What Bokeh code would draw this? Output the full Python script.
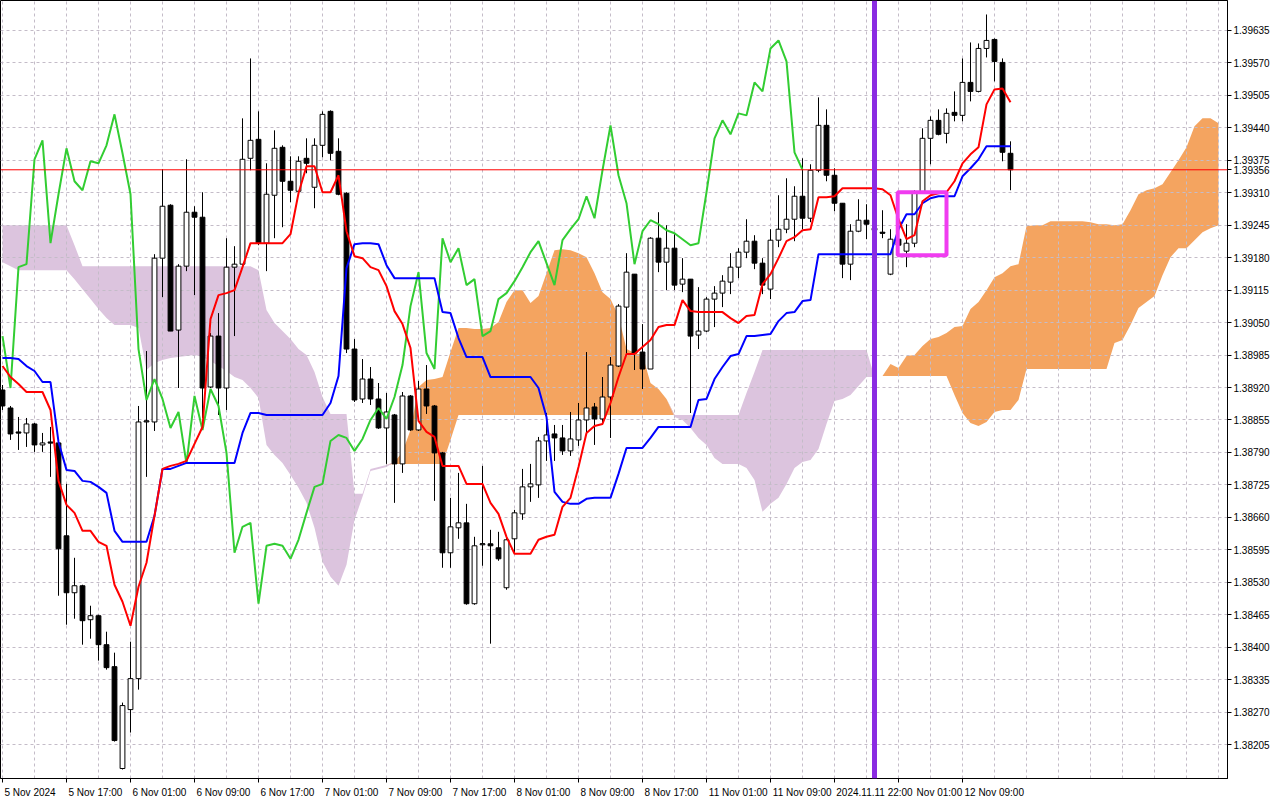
import numpy as np
from bokeh.plotting import figure
from bokeh.models import Range1d, FixedTicker, PrintfTickFormatter, Span
from bokeh.embed import file_html
from bokeh.resources import INLINE

# ---------------- data (H1 bars, 5 Nov 2024 09:00 ... 12 Nov 2024 15:00) ----------------
tick_bars = [0, 8, 16, 24, 32, 40, 48, 56, 64, 72, 80, 88, 96, 120]
tick_text = ["5 Nov 2024", "5 Nov 17:00", "6 Nov 01:00", "6 Nov 09:00", "6 Nov 17:00",
             "7 Nov 01:00", "7 Nov 09:00", "7 Nov 17:00", "8 Nov 01:00", "8 Nov 09:00",
             "8 Nov 17:00", "11 Nov 01:00", "11 Nov 09:00", "12 Nov 09:00"]
hidden_tick_bars = [104, 112]          # 11 Nov 17:00 and 12 Nov 01:00, mostly covered by the marker tag
partly_visible_text = "Nov 01:00"      # visible rest of the "12 Nov 01:00" label

price_ticks = [1.38205, 1.38270, 1.38335, 1.38400, 1.38465, 1.38530, 1.38595, 1.38660,
               1.38725, 1.38790, 1.38855, 1.38920, 1.38985, 1.39050, 1.39115, 1.39180,
               1.39245, 1.39310, 1.39375, 1.39440, 1.39505, 1.39570, 1.39635]

open_ = [1.38915, 1.38879, 1.38831, 1.38829, 1.38847, 1.38805, 1.38811, 1.38809, 1.38623, 1.38509,
         1.38523, 1.38455, 1.38463, 1.38405, 1.38361, 1.38157, 1.38275, 1.38337, 1.38851, 1.38851,
         1.39179, 1.39285, 1.39035, 1.39163, 1.39271, 1.39261, 1.38921, 1.39023, 1.38919, 1.39161,
         1.39167, 1.39379, 1.39417, 1.39209, 1.39305, 1.39401, 1.39333, 1.39313, 1.39379, 1.39321,
         1.39405, 1.39473, 1.39393, 1.39309, 1.38997, 1.38897, 1.38937, 1.38897, 1.38839, 1.38865,
         1.38767, 1.38903, 1.38835, 1.38917, 1.38883, 1.38789, 1.38589, 1.38639, 1.38649, 1.38487,
         1.38605, 1.38607, 1.38599, 1.38519, 1.38617, 1.38667, 1.38721, 1.38725, 1.38813, 1.38827,
         1.38819, 1.38793, 1.38815, 1.38855, 1.38881, 1.38857, 1.38901, 1.38963, 1.39081, 1.39147,
         1.38991, 1.38957, 1.39219, 1.39171, 1.39199, 1.39127, 1.39137, 1.39025, 1.39033, 1.39097,
         1.39109, 1.39131, 1.39161, 1.39191, 1.39213, 1.39169, 1.39117, 1.39215, 1.39237, 1.39257,
         1.39303, 1.39259, 1.39355, 1.39445, 1.39345, 1.39289, 1.39167, 1.39233, 1.39255, 1.39239,
         1.39231, 1.39147, 1.39217, 1.39193, 1.39209, 1.39311, 1.39419, 1.39455, 1.39429, 1.39471,
         1.39465, 1.39531, 1.39513, 1.39599, 1.39617, 1.39571, 1.39389]

high = [1.38925, 1.38883, 1.38861, 1.38859, 1.38849, 1.38829, 1.38841, 1.38811, 1.38727, 1.38579,
        1.38525, 1.38483, 1.38465, 1.38431, 1.38389, 1.38289, 1.38411, 1.38883, 1.38993, 1.39187,
        1.39357, 1.39287, 1.39167, 1.39377, 1.39283, 1.39311, 1.39029, 1.39069, 1.39219, 1.39203,
        1.39459, 1.39579, 1.39473, 1.39369, 1.39435, 1.39405, 1.39383, 1.39383, 1.39419, 1.39419,
        1.39473, 1.39475, 1.39419, 1.39311, 1.39017, 1.38977, 1.38961, 1.38929, 1.38909, 1.38867,
        1.38911, 1.38905, 1.38933, 1.38965, 1.38885, 1.38791, 1.38699, 1.38749, 1.38687, 1.38621,
        1.38763, 1.38635, 1.38631, 1.38619, 1.38675, 1.38757, 1.38767, 1.38821, 1.38869, 1.38845,
        1.38845, 1.38871, 1.38889, 1.38991, 1.38889, 1.38941, 1.38981, 1.39087, 1.39189, 1.39147,
        1.39047, 1.39221, 1.39271, 1.39245, 1.39227, 1.39179, 1.39137, 1.39121, 1.39101, 1.39123,
        1.39145, 1.39189, 1.39199, 1.39257, 1.39225, 1.39179, 1.39237, 1.39305, 1.39339, 1.39323,
        1.39379, 1.39367, 1.39501, 1.39477, 1.39359, 1.39289, 1.39247, 1.39297, 1.39287, 1.39265,
        1.39275, 1.39237, 1.39239, 1.39247, 1.39315, 1.39439, 1.39463, 1.39477, 1.39479, 1.39513,
        1.39579, 1.39611, 1.39609, 1.39667, 1.39619, 1.39579, 1.39413]

low = [1.38875, 1.38815, 1.38795, 1.38801, 1.38791, 1.38791, 1.38741, 1.38503, 1.38445, 1.38457,
       1.38405, 1.38417, 1.38373, 1.38355, 1.38211, 1.38155, 1.38229, 1.38315, 1.38741, 1.38833,
       1.39101, 1.39033, 1.38919, 1.39153, 1.39105, 1.38859, 1.38919, 1.38865, 1.38875, 1.39023,
       1.39165, 1.39355, 1.39205, 1.39153, 1.39219, 1.39241, 1.39291, 1.39309, 1.39349, 1.39279,
       1.39381, 1.39375, 1.39305, 1.38989, 1.38891, 1.38889, 1.38885, 1.38837, 1.38767, 1.38689,
       1.38749, 1.38833, 1.38833, 1.38867, 1.38693, 1.38559, 1.38559, 1.38617, 1.38485, 1.38485,
       1.38563, 1.38407, 1.38573, 1.38515, 1.38589, 1.38655, 1.38691, 1.38699, 1.38773, 1.38773,
       1.38785, 1.38783, 1.38803, 1.38829, 1.38805, 1.38847, 1.38819, 1.38961, 1.38987, 1.38955,
       1.38917, 1.38957, 1.39151, 1.39115, 1.39115, 1.39111, 1.38869, 1.38997, 1.39031, 1.39041,
       1.39081, 1.39107, 1.39139, 1.39179, 1.39157, 1.39107, 1.39097, 1.39201, 1.39229, 1.39213,
       1.39237, 1.39251, 1.39351, 1.39333, 1.39273, 1.39139, 1.39135, 1.39231, 1.39217, 1.39215,
       1.39219, 1.39145, 1.39195, 1.39161, 1.39201, 1.39309, 1.39367, 1.39425, 1.39409, 1.39453,
       1.39453, 1.39493, 1.39511, 1.39581, 1.39533, 1.39373, 1.39315]

close = [1.38883, 1.38827, 1.38829, 1.38847, 1.38805, 1.38809, 1.38809, 1.38597, 1.38509, 1.38523,
         1.38453, 1.38463, 1.38405, 1.38359, 1.38213, 1.38283, 1.38337, 1.38851, 1.38853, 1.39179,
         1.39283, 1.39033, 1.39163, 1.39271, 1.39261, 1.38919, 1.39023, 1.38919, 1.39161, 1.39167,
         1.39377, 1.39415, 1.39209, 1.39307, 1.39399, 1.39333, 1.39315, 1.39373, 1.39369, 1.39405,
         1.39467, 1.39389, 1.39307, 1.38997, 1.38895, 1.38937, 1.38897, 1.38839, 1.38871, 1.38767,
         1.38903, 1.38835, 1.38917, 1.38883, 1.38789, 1.38589, 1.38641, 1.38649, 1.38487, 1.38603,
         1.38607, 1.38603, 1.38577, 1.38615, 1.38669, 1.38721, 1.38727, 1.38813, 1.38825, 1.38819,
         1.38793, 1.38817, 1.38855, 1.38879, 1.38857, 1.38901, 1.38965, 1.39083, 1.39151, 1.38989,
         1.38957, 1.39219, 1.39171, 1.39199, 1.39125, 1.39137, 1.39023, 1.39033, 1.39097, 1.39109,
         1.39133, 1.39161, 1.39191, 1.39213, 1.39169, 1.39125, 1.39215, 1.39237, 1.39257, 1.39303,
         1.39259, 1.39355, 1.39445, 1.39345, 1.39289, 1.39167, 1.39233, 1.39255, 1.39247, 1.39235,
         1.39229, 1.39217, 1.39205, 1.39209, 1.39311, 1.39419, 1.39455, 1.39427, 1.39469, 1.39465,
         1.39531, 1.39513, 1.39599, 1.39615, 1.39573, 1.39391, 1.39356]

tenkan = [1.38963, 1.38941, 1.38927, 1.38911, 1.38911, 1.38911, 1.38875, 1.38733, 1.38685, 1.38669,
          1.38633, 1.38633, 1.38611, 1.38603, 1.38525, 1.38491, 1.38443, 1.38521, 1.38569, 1.38663,
          1.38757, 1.38763, 1.38767, 1.38773, 1.38807, 1.38841, 1.39057, 1.39105, 1.39109, 1.39115,
          1.39161, 1.39209, 1.39209, 1.39209, 1.39209, 1.39209, 1.39227, 1.39309, 1.39363, 1.39363,
          1.39311, 1.39311, 1.39345, 1.39233, 1.39183, 1.39179, 1.39161, 1.39155, 1.39123, 1.39073,
          1.39047, 1.38999, 1.38853, 1.38831, 1.38821, 1.38763, 1.38763, 1.38763, 1.38727, 1.38727,
          1.38727, 1.38689, 1.38667, 1.38621, 1.38587, 1.38587, 1.38587, 1.38615, 1.38621, 1.38625,
          1.38681, 1.38699, 1.38761, 1.38829, 1.38843, 1.38847, 1.38889, 1.38941, 1.38987, 1.38987,
          1.39001, 1.39015, 1.39041, 1.39045, 1.39045, 1.39095, 1.39073, 1.39071, 1.39071, 1.39071,
          1.39071, 1.39059, 1.39049, 1.39063, 1.39065, 1.39127, 1.39147, 1.39179, 1.39213, 1.39221,
          1.39235, 1.39237, 1.39301, 1.39301, 1.39303, 1.39319, 1.39319, 1.39319, 1.39319, 1.39319,
          1.39317, 1.39305, 1.39257, 1.39217, 1.39225, 1.39293, 1.39305, 1.39309, 1.39311, 1.39333,
          1.39369, 1.39387, 1.39401, 1.39487, 1.39517, 1.39519, 1.39491]

kijun = [1.38979, 1.38979, 1.38977, 1.38963, 1.38953, 1.38931, 1.38931, 1.38811, 1.38755, 1.38753,
         1.38733, 1.38731, 1.38721, 1.38709, 1.38633, 1.38611, 1.38611, 1.38611, 1.38611, 1.38663,
         1.38757, 1.38757, 1.38763, 1.38769, 1.38769, 1.38769, 1.38769, 1.38769, 1.38769, 1.38769,
         1.38829, 1.38869, 1.38869, 1.38865, 1.38865, 1.38865, 1.38865, 1.38865, 1.38865, 1.38865,
         1.38865, 1.38889, 1.38943, 1.39159, 1.39207, 1.39209, 1.39209, 1.39207, 1.39165, 1.39139,
         1.39139, 1.39139, 1.39139, 1.39139, 1.39139, 1.39071, 1.39069, 1.39019, 1.38981, 1.38981,
         1.38981, 1.38941, 1.38941, 1.38941, 1.38941, 1.38941, 1.38941, 1.38919, 1.38861, 1.38711,
         1.38691, 1.38687, 1.38687, 1.38697, 1.38699, 1.38699, 1.38699, 1.38747, 1.38799, 1.38799,
         1.38799, 1.38819, 1.38841, 1.38841, 1.38841, 1.38841, 1.38841, 1.38895, 1.38897, 1.38937,
         1.38961, 1.38983, 1.38987, 1.39023, 1.39023, 1.39025, 1.39027, 1.39053, 1.39069, 1.39071,
         1.39093, 1.39095, 1.39187, 1.39187, 1.39187, 1.39187, 1.39187, 1.39187, 1.39187, 1.39187,
         1.39187, 1.39187, 1.39237, 1.39267, 1.39267, 1.39289, 1.39299, 1.39303, 1.39303, 1.39303,
         1.39343, 1.39359, 1.39377, 1.39403, 1.39403, 1.39403, 1.39403]

# Senkou spans, drawn 26 bars ahead of the last candle (bars 0 ... 152)
senkou_a = [1.39171, 1.39163, 1.39155, 1.39155, 1.39155, 1.39155, 1.39155, 1.39155, 1.39155, 1.39137,
            1.39117, 1.39097, 1.39077, 1.39059, 1.39045, 1.39045, 1.39045, 1.39039, 1.38955, 1.38969,
            1.38975, 1.38979, 1.38981, 1.38983, 1.38985, 1.38981, 1.38973, 1.38963, 1.38953, 1.38941,
            1.38935, 1.38919, 1.38899, 1.38805, 1.38785, 1.38769, 1.38745, 1.38719, 1.38689, 1.38639,
            1.38571, 1.38541, 1.38523, 1.38565, 1.38655, 1.38701, 1.38753, 1.38757, 1.38761, 1.38771,
            1.38791, 1.38835, 1.38921, 1.38935, 1.38937, 1.38941, 1.38991, 1.39039, 1.39039, 1.39037,
            1.39037, 1.39039, 1.39051, 1.39091, 1.39115, 1.39115, 1.39089, 1.39103, 1.39149, 1.39195,
            1.39197, 1.39195, 1.39189, 1.39181, 1.39149, 1.39111, 1.39097, 1.39063, 1.38997, 1.38989,
            1.38985, 1.38929, 1.38917, 1.38897, 1.38861, 1.38855, 1.38839, 1.38819, 1.38805, 1.38779,
            1.38767, 1.38767, 1.38767, 1.38759, 1.38735, 1.38671, 1.38687, 1.38699, 1.38727, 1.38759,
            1.38771, 1.38775, 1.38797, 1.38847, 1.38893, 1.38897, 1.38905, 1.38923, 1.38941, 1.38941,
            1.38943, 1.38967, 1.38959, 1.38983, 1.38985, 1.39003, 1.39017, 1.39021, 1.39029, 1.39041,
            1.39043, 1.39077, 1.39091, 1.39115, 1.39141, 1.39149, 1.39163, 1.39167, 1.39243, 1.39245,
            1.39245, 1.39253, 1.39253, 1.39253, 1.39253, 1.39253, 1.39251, 1.39247, 1.39247, 1.39245,
            1.39247, 1.39275, 1.39307, 1.39315, 1.39319, 1.39327, 1.39351, 1.39375, 1.39401, 1.39443,
            1.39459, 1.39459, 1.39449]

senkou_b = [1.39245, 1.39245, 1.39245, 1.39245, 1.39245, 1.39245, 1.39245, 1.39245, 1.39245, 1.39205,
            1.39163, 1.39163, 1.39163, 1.39163, 1.39163, 1.39163, 1.39163, 1.39163, 1.39163, 1.39163,
            1.39163, 1.39163, 1.39163, 1.39163, 1.39163, 1.39163, 1.39163, 1.39163, 1.39163, 1.39163,
            1.39163, 1.39163, 1.39155, 1.39075, 1.39049, 1.39033, 1.39017, 1.38997, 1.38985, 1.38951,
            1.38901, 1.38867, 1.38867, 1.38867, 1.38707, 1.38707, 1.38757, 1.38761, 1.38765, 1.38767,
            1.38767, 1.38767, 1.38767, 1.38767, 1.38767, 1.38767, 1.38815, 1.38865, 1.38865, 1.38865,
            1.38865, 1.38865, 1.38865, 1.38865, 1.38865, 1.38865, 1.38865, 1.38865, 1.38865, 1.38865,
            1.38865, 1.38865, 1.38865, 1.38865, 1.38865, 1.38865, 1.38865, 1.38865, 1.38865, 1.38865,
            1.38865, 1.38865, 1.38865, 1.38865, 1.38865, 1.38865, 1.38865, 1.38865, 1.38865, 1.38865,
            1.38865, 1.38865, 1.38865, 1.38909, 1.38951, 1.38995, 1.38995, 1.38995, 1.38995, 1.38995,
            1.38995, 1.38995, 1.38995, 1.38995, 1.38995, 1.38995, 1.38995, 1.38995, 1.38995, 1.38941,
            1.38943, 1.38943, 1.38943, 1.38943, 1.38943, 1.38943, 1.38943, 1.38943, 1.38943, 1.38905,
            1.38869, 1.38849, 1.38843, 1.38851, 1.38871, 1.38875, 1.38875, 1.38895, 1.38957, 1.38957,
            1.38957, 1.38957, 1.38957, 1.38957, 1.38957, 1.38957, 1.38957, 1.38957, 1.38957, 1.39009,
            1.39015, 1.39045, 1.39079, 1.39091, 1.39103, 1.39145, 1.39181, 1.39199, 1.39199, 1.39215,
            1.39231, 1.39239, 1.39245]

chikou_shift = 26
last_price = 1.39356
marker_bar = 109
marker_text = "2024.11.11 22:00"
box_bars = (111.9, 118.0)
box_prices = (1.39185, 1.39311)

# ---------------- figure ----------------
x_start, x_end = -0.25, 153.125
y_start, y_end = 1.38137, 1.39695
BAR_PX = 8.0
FONT = "Liberation Sans"
FONT_PX = 10

p = figure(width=1280, height=800,
           x_range=Range1d(x_start, x_end), y_range=Range1d(y_start, y_end),
           y_axis_location="right", x_axis_location="below",
           toolbar_location=None, output_backend="svg",
           min_border_left=0, min_border_top=0, min_border_right=53, min_border_bottom=21,
           background_fill_color="white", border_fill_color="white",
           outline_line_color="black", outline_line_width=1)

# grid
grid_bars = list(range(0, 156, 4))
p.xgrid.ticker = FixedTicker(ticks=grid_bars)
p.ygrid.ticker = FixedTicker(ticks=price_ticks)
for g in (p.xgrid, p.ygrid):
    g.grid_line_color = "#C4BCC8"
    g.grid_line_dash = "3 3"
    g.grid_line_width = 1

# x axis: labels start at their tick (MetaTrader style) -> label anchor moved by half its width
CHAR_W = {" ": 0.278, ":": 0.278, ".": 0.278, "N": 0.722, "o": 0.556, "v": 0.5}
def text_width_px(s):
    return sum(CHAR_W.get(ch, 0.556) for ch in s) * FONT_PX

label_pos = [round(b + text_width_px(t) / 2.0 / BAR_PX + 0.25, 4) for b, t in zip(tick_bars, tick_text)]
label_txt = list(tick_text)
# marker time tag, centred on the marker line
label_pos.append(float(marker_bar))
label_txt.append(marker_text)
# visible remainder of the 12 Nov 01:00 label, just right of the tag
tag_right_bar = marker_bar + text_width_px(marker_text) / 2.0 / BAR_PX + 0.4
rest_pos = round(tag_right_bar + text_width_px(partly_visible_text) / 2.0 / BAR_PX, 4)
label_pos.append(rest_pos)
label_txt.append(partly_visible_text)

p.xaxis.ticker = FixedTicker(ticks=label_pos, minor_ticks=tick_bars + hidden_tick_bars)
p.xaxis.major_label_overrides = {pos: t for pos, t in zip(label_pos, label_txt)}
p.xaxis.major_tick_line_color = None
p.xaxis.minor_tick_line_color = "black"
p.xaxis.minor_tick_out = 4
p.xaxis.minor_tick_in = 0

# y axis (price scale) incl. the current price tag
p.yaxis.ticker = FixedTicker(ticks=price_ticks + [last_price])
p.yaxis.formatter = PrintfTickFormatter(format="%.5f")
p.yaxis.major_tick_line_color = "black"
p.yaxis.minor_tick_line_color = None
p.yaxis.major_tick_out = 4
p.yaxis.major_tick_in = 0
for ax in (p.xaxis, p.yaxis):
    ax.axis_line_color = "black"
    ax.axis_line_width = 1
    ax.major_label_text_font = FONT
    ax.major_label_text_font_size = "%dpx" % FONT_PX
    ax.major_label_text_color = "black"
    ax.major_label_standoff = 2

# cloud
sa = np.array(senkou_a)
sb = np.array(senkou_b)
cx = np.arange(len(sa))
p.varea(x=cx, y1=sb, y2=np.where(sa > sb, sa, sb), fill_color="#F4A460", fill_alpha=1.0, level="image")
p.varea(x=cx, y1=sa, y2=np.where(sb > sa, sb, sa), fill_color="#DCC4DE", fill_alpha=1.0, level="image")

# candles
o = np.array(open_)
h = np.array(high)
l = np.array(low)
c = np.array(close)
bars = np.arange(len(c))
bull = c >= o
body_top = np.maximum(o, c)
body_bot = np.minimum(o, c)
fills = np.where(bull, "white", "black")

p.segment(x0=bars, y0=h, x1=bars, y1=l, line_color="black", line_width=1)
p.vbar(x=bars, top=body_top, bottom=body_bot, width=0.6, fill_color=fills,
       line_color="black", line_width=1)
flat = (body_top - body_bot) < 0.00003
p.segment(x0=bars[flat] - 0.3, y0=c[flat], x1=bars[flat] + 0.3, y1=c[flat],
          line_color="black", line_width=1)

# Ichimoku lines
p.line(bars[:-chikou_shift], c[chikou_shift:], line_color="#32CD32", line_width=2)
p.line(bars, kijun, line_color="#0000FF", line_width=2)
p.line(bars, tenkan, line_color="#FF0000", line_width=2)

# bid line
p.add_layout(Span(location=last_price, dimension="width", line_color="#FF0000", line_width=1))

# highlighted box
p.quad(left=[box_bars[0]], right=[box_bars[1]], bottom=[box_prices[0]], top=[box_prices[1]],
       fill_alpha=0, line_color="#F03CF0", line_width=4)

# vertical marker
p.add_layout(Span(location=marker_bar, dimension="height", line_color="#8A2BE2", line_width=5))

open("out.html", "w").write(file_html(p, INLINE))
